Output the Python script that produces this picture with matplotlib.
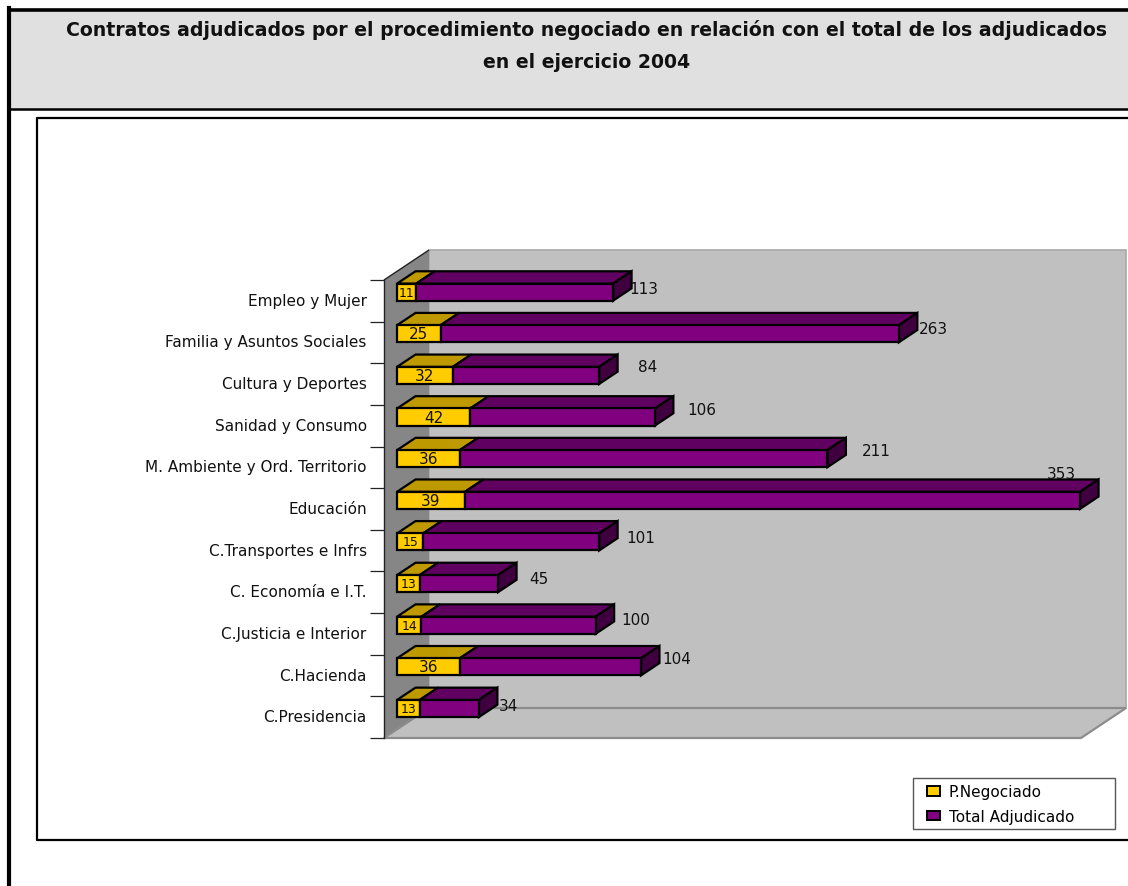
"""Contratos adjudicados: stacked horizontal bars with a fake 3D look"""

import matplotlib
matplotlib.use('agg')
import matplotlib.pyplot as plt
import numpy as np
from matplotlib.patches import Patch, Polygon, Rectangle
from matplotlib.transforms import ScaledTranslation

categories = ["C.Presidencia", "C.Hacienda", "C.Justicia e Interior",
              "C. Economía e I.T.", "C.Transportes e Infrs", "Educación",
              "M. Ambiente y Ord. Territorio", "Sanidad y Consumo",
              "Cultura y Deportes", "Familia y Asuntos Sociales",
              "Empleo y Mujer"]
negociado = [13, 36, 14, 13, 15, 39, 36, 42, 32, 25, 11]
total = [34, 104, 100, 45, 101, 353, 211, 106, 84, 263, 113]

title = ("Contratos adjudicados por el procedimiento negociado en relación "
         "con el total de los adjudicados\nen el ejercicio 2004")

W, H = 1128, 887
X_MAX = 400
LEFT, RIGHT, TOP, BOTTOM = 384, 1081, 281, 739
DEPTH_X, DEPTH_Y = 45, 30
BAR_FRONT, BAR_BACK = 0.29, 0.70
BAR_HEIGHT = 0.41

# label nudges in pixels from the bar end, the original has them hand placed
label_dx = [30, 36, 40, 41, 42, -19, 49, 47, 48, 35, 31]
label_dy = [3, 8, 6, 5, 4, 27, 8, 8, 9, 5, 4]

plt.rcParams["font.family"] = ["DejaVu Sans"]

fig = plt.figure(figsize=(W / 100, H / 100), dpi=100)

# page decoration, in pixels
page = fig.add_axes([0, 0, 1, 1])
page.set_xlim(0, W)
page.set_ylim(H, 0)
page.axis("off")
page.add_patch(Rectangle((9, 11), W, 99, fc="#E0E0E0", ec="none"))
page.plot([9, W], [10.5, 10.5], color="black", lw=2.6)
page.plot([9, 9], [9, H], color="black", lw=3)
page.plot([9, W], [110, 110], color="black", lw=1.8)
page.plot([W, 36.5, 36.5, W], [118.5, 118.5, 841, 841], color="black", lw=1.6)
page.text(586.5, 46, title, ha="center", va="center", fontsize=13.6,
          fontweight="bold", linespacing=1.8, color="#111111")
page.add_patch(Rectangle((913, 779), 202, 51, fc="white", ec="#555555", lw=1.0,
                         zorder=6))

ax = fig.add_axes([LEFT / W, (H - BOTTOM) / H, (RIGHT - LEFT) / W,
                   (BOTTOM - TOP) / H])
ax.patch.set_alpha(0)
ax.set_xlim(0, X_MAX)
n = len(categories)
ax.set_ylim(-0.5, n - 0.5)

unit_x = X_MAX / (RIGHT - LEFT)
unit_y = n / (BOTTOM - TOP)
shift_x = DEPTH_X * unit_x
shift_y = DEPTH_Y * unit_y


def add_face(points, **kw):
    """Add a polygon given in data units, (value, category, depth)"""
    xy = [(v + d * shift_x, c + d * shift_y) for v, c, d in points]
    ax.add_patch(Polygon(xy, closed=True, clip_on=False, **kw))


# walls and floor
y0, y1 = -0.5, n - 0.5
add_face([(0, y0, 1), (X_MAX, y0, 1), (X_MAX, y1, 1), (0, y1, 1)],
         fc="#C0C0C0", ec="#A8A8A8", lw=1.2, zorder=1)
add_face([(0, y0, 0), (0, y0, 1), (0, y1, 1), (0, y1, 0)],
         fc="#868686", ec="none", zorder=1.1)
add_face([(0, y0, 0), (X_MAX, y0, 0), (X_MAX, y0, 1), (0, y0, 1)],
         fc="#C0C0C0", ec="#8C8C8C", lw=1.6, zorder=1.2)
add_face([(0, y1, 0), (0, y1, 1), (0, y1, 1)], fc="none", ec="#222222",
         lw=1.0, zorder=1.3)

ys = np.arange(n)
neg = np.array(negociado)
tot = np.array(total)
ends = neg + tot
front_x = BAR_FRONT * shift_x
front_y = BAR_FRONT * shift_y
half = BAR_HEIGHT / 2
edge = dict(ec="black", lw=1.6)

for i in ys:
    a, b, c = neg[i], ends[i], ys[i]
    top = c + half
    add_face([(0, top, BAR_FRONT), (a, top, BAR_FRONT), (a, top, BAR_BACK),
              (0, top, BAR_BACK)], fc="#BF9900", zorder=3, **edge)
    add_face([(a, top, BAR_FRONT), (b, top, BAR_FRONT), (b, top, BAR_BACK),
              (a, top, BAR_BACK)], fc="#600060", zorder=3, **edge)
    add_face([(b, c - half, BAR_FRONT), (b, top, BAR_FRONT), (b, top, BAR_BACK),
              (b, c - half, BAR_BACK)], fc="#400040", zorder=3, **edge)

ax.barh(ys + front_y, neg, left=front_x, height=BAR_HEIGHT, color="#FFCC00",
        zorder=4, **edge)
ax.barh(ys + front_y, tot, left=neg + front_x, height=BAR_HEIGHT,
        color="#800080", zorder=4, **edge)

for i in ys:
    size = 9 if negociado[i] < 20 else 11
    ax.text(neg[i] / 2 + front_x, ys[i] + front_y, str(negociado[i]),
            ha="center", va="center", fontsize=size, color="#111111", zorder=5)
    ax.annotate(str(total[i]), (ends[i] + front_x, ys[i] + front_y),
                xytext=(label_dx[i] * 0.72, label_dy[i] * 0.72),
                textcoords="offset points", ha="center", va="center",
                fontsize=11, color="#111111", zorder=5,
                annotation_clip=False)

for side in ("top", "right", "bottom"):
    ax.spines[side].set_visible(False)
ax.spines["left"].set_color("#222222")
ax.spines["left"].set_linewidth(1.0)
ax.spines["left"].set_zorder(2)
ax.set_xticks([])
ax.set_yticks(ys)
ax.set_yticklabels(categories, fontsize=11, color="#111111")
ax.tick_params(axis="y", which="major", length=0, pad=12.5)
ax.set_yticks(np.arange(n + 1) - 0.5, minor=True)
ax.tick_params(axis="y", which="minor", length=10, width=0.9, color="#222222")
nudge = ScaledTranslation(0, 2 / 100, fig.dpi_scale_trans)
for label in ax.get_yticklabels():
    label.set_transform(label.get_transform() + nudge)

handles = [Patch(fc="#FFCC00", ec="black", lw=1.4, label="P.Negociado"),
           Patch(fc="#800080", ec="black", lw=1.4, label="Total Adjudicado")]
legend = fig.legend(handles=handles, loc="lower left",
                    bbox_to_anchor=(922 / W, (H - 830) / H), fontsize=11,
                    frameon=False, handlelength=0.8, handleheight=0.55,
                    handletextpad=0.6, labelspacing=0.6, borderpad=0.35,
                    borderaxespad=0)
legend.set_zorder(7)

fig.savefig("out.png", dpi=100)
